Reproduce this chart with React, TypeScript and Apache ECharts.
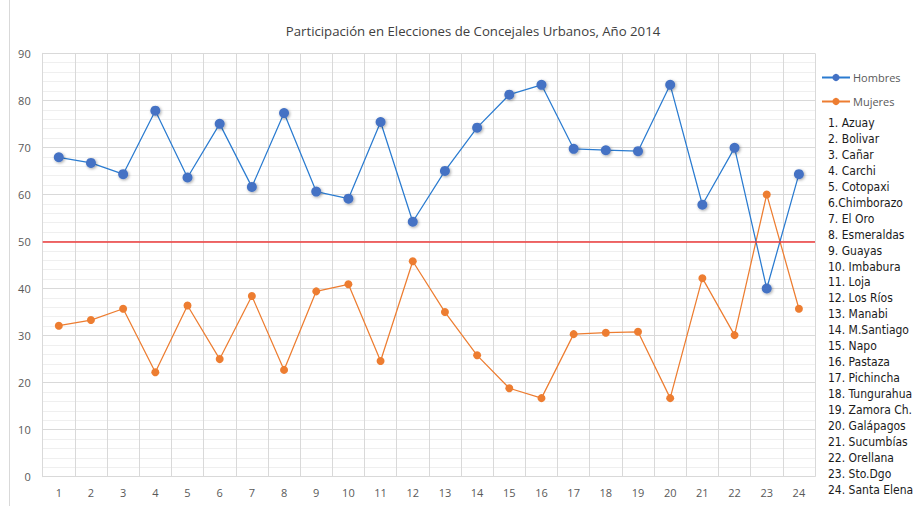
import React, { useEffect, useRef } from "react";
import * as echarts from "echarts";

const titleText = "Participación en Elecciones de Concejales Urbanos, Año 2014";
const categories = ["1","2","3","4","5","6","7","8","9","10","11","12","13","14","15","16","17","18","19","20","21","22","23","24"];
const hombres = [67.9, 66.7, 64.3, 77.8, 63.6, 75.0, 61.6, 77.3, 60.6, 59.1, 75.4, 54.2, 65.0, 74.2, 81.2, 83.3, 69.7, 69.4, 69.2, 83.3, 57.8, 69.9, 40.0, 64.3];
const mujeres = [32.1, 33.3, 35.7, 22.2, 36.4, 25.0, 38.4, 22.7, 39.4, 40.9, 24.6, 45.8, 35.0, 25.8, 18.8, 16.7, 30.3, 30.6, 30.8, 16.7, 42.2, 30.1, 60.0, 35.7];
const referenceValue = 50;
const provincias = [
  "1. Azuay", "2. Bolivar", "3. Cañar", "4. Carchi", "5. Cotopaxi", "6.Chimborazo",
  "7. El Oro", "8. Esmeraldas", "9. Guayas", "10. Imbabura", "11. Loja", "12. Los Ríos",
  "13. Manabi", "14. M.Santiago", "15. Napo", "16. Pastaza", "17. Pichincha", "18. Tungurahua",
  "19. Zamora Ch.", "20. Galápagos", "21. Sucumbías", "22. Orellana", "23. Sto.Dgo", "24. Santa Elena",
];

export default function App() {
  const ref = useRef<HTMLDivElement>(null);
  useEffect(() => {
    if (!ref.current) return;
    const chart = echarts.init(ref.current, null, { renderer: "svg" });
    const axisFont = { color: "#595959", fontSize: 11, fontFamily: "Open Sans" };
    chart.setOption({
      animation: false,
      backgroundColor: "#ffffff",
      title: {
        text: titleText,
        left: 468,
        top: 19,
        textAlign: "center",
        textStyle: { fontSize: 13.2, fontWeight: "normal", color: "#404040", fontFamily: "Open Sans" },
      },
      legend: {
        orient: "vertical",
        left: 816,
        top: 67,
        itemWidth: 28,
        itemHeight: 9,
        itemGap: 13,
        textStyle: { color: "#595959", fontSize: 11, fontFamily: "Open Sans", padding: [0, 0, 0, -2] },
        data: ["Hombres", "Mujeres"],
      },
      graphic: [
        { type: "line", shape: { x1: 9.5, y1: 0, x2: 9.5, y2: 506 }, style: { stroke: "#d9d9d9", lineWidth: 1 } },
        {
          type: "text",
          left: 828,
          top: 115,
          style: {
            text: provincias.join("\n"),
            fontSize: 12,
            lineHeight: 15.95,
            fill: "#1a1a1a",
            fontFamily: "DejaVu Sans Condensed",
          },
        },
      ],
      grid: { left: 42.7, right: 101, top: 53.3, bottom: 29.3, containLabel: false },
      xAxis: {
        type: "category",
        data: categories,
        boundaryGap: true,
        axisLine: { show: true, lineStyle: { color: "#d9d9d9" } },
        axisTick: { show: false },
        axisLabel: { ...axisFont, margin: 10, interval: 0 },
        splitLine: { show: true, interval: 0, lineStyle: { color: "#d9d9d9" } },
      },
      yAxis: {
        type: "value",
        min: 0,
        max: 90,
        interval: 10,
        axisLine: { show: true, lineStyle: { color: "#d9d9d9" } },
        axisTick: { show: false },
        axisLabel: { ...axisFont, margin: 12 },
        splitLine: { show: true, lineStyle: { color: "#d9d9d9" } },
        minorTick: { show: false, splitNumber: 5 },
        minorSplitLine: { show: true, lineStyle: { color: "#efefef" } },
      },
      series: [
        {
          name: "Hombres",
          type: "line",
          data: hombres,
          symbol: "circle",
          symbolSize: 10,
          lineStyle: { color: "#2a7bd0", width: 1.25 },
          itemStyle: { color: "#4472C4", shadowBlur: 3, shadowColor: "rgba(0,0,0,0.35)", shadowOffsetX: 1, shadowOffsetY: 1 },
          markLine: {
            silent: true,
            symbol: "none",
            label: { show: false },
            lineStyle: { color: "#ee3b3b", width: 1.5, type: "solid" },
            data: [{ yAxis: referenceValue }],
          },
          z: 3,
        },
        {
          name: "Mujeres",
          type: "line",
          data: mujeres,
          symbol: "circle",
          symbolSize: 8,
          lineStyle: { color: "#ED7D31", width: 1.25 },
          itemStyle: { color: "#ED7D31" },
          z: 2,
        },
      ],
    });
    return () => chart.dispose();
  }, []);
  return <div ref={ref} style={{ position: "absolute", left: 0, top: 0, width: 916, height: 506 }} />;
}
